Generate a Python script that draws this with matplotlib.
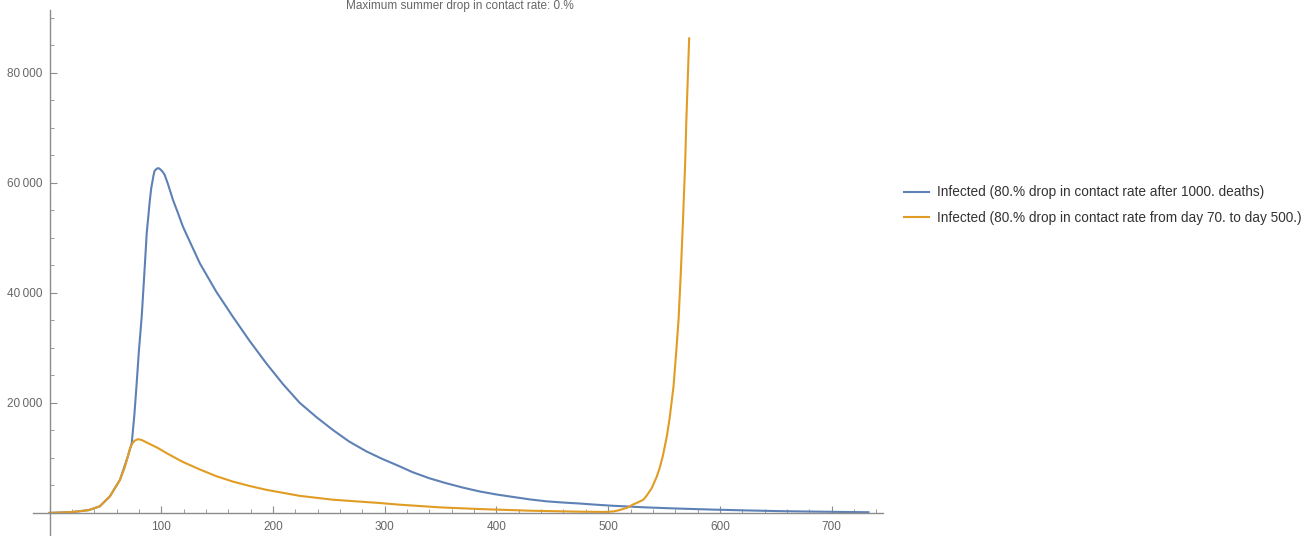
import numpy as np
import matplotlib.pyplot as plt
from matplotlib.ticker import MultipleLocator, FuncFormatter

# values
days_a = [0, 20, 35, 45, 54, 63, 70, 73.6, 76, 78, 80, 82.5, 85, 87, 89.8, 91, 93, 94, 96, 97.5,
          99, 101, 103, 106, 110.5, 115, 119.5, 127, 134.5, 149, 164, 179, 194, 209, 224, 239,
          253.5, 268, 283.5, 298, 313, 325, 340, 355, 370, 385, 400, 415, 430, 445, 460, 475,
          490, 504, 534, 564, 594, 624, 654, 690, 733]
inf_a = [0, 150, 500, 1200, 3000, 6000, 10200, 12700, 18000, 23600, 29500, 35700, 44000, 50900,
         56900, 59000, 61300, 62200, 62600, 62700, 62500, 62100, 61500, 59800, 56900, 54500,
         52000, 48700, 45400, 40300, 35700, 31300, 27200, 23400, 20000, 17400, 15100, 13000,
         11200, 9800, 8500, 7400, 6300, 5400, 4600, 3900, 3350, 2900, 2450, 2100, 1880, 1700,
         1480, 1300, 1000, 780, 600, 450, 320, 220, 120]

days_b = [0, 20, 35, 45, 54, 63, 67, 70, 72, 74, 76, 79, 82, 84, 90, 97, 104.5, 119, 134.5, 149,
          164, 179, 194, 224, 253.5, 295.5, 313, 350, 385, 430, 475, 495, 500, 505, 510, 513,
          516.5, 519, 522, 527, 531.5, 534, 539, 543.5, 546, 549, 552.5, 555, 558.5, 561, 563,
          565, 567, 569, 570, 572.5]
inf_b = [0, 150, 500, 1200, 3000, 6000, 8100, 10200, 11700, 12600, 13100, 13400, 13300, 13100,
         12500, 11800, 10900, 9300, 7900, 6700, 5700, 4900, 4200, 3100, 2400, 1800, 1500, 1000,
         700, 400, 220, 180, 190, 280, 500, 700, 900, 1150, 1500, 1950, 2400, 3000, 4500, 6600,
         8100, 10400, 13900, 17200, 23000, 29500, 35100, 43500, 53300, 64000, 71500, 86300]

label_a = "Infected (80.% drop in contact rate after 1000. deaths)"
label_b = "Infected (80.% drop in contact rate from day 70. to day 500.)"
title = "Maximum summer drop in contact rate: 0.%"

plt.rcParams['font.family'] = ['Liberation Sans', 'DejaVu Sans']

W, H = 1314, 536
fig = plt.figure(figsize=(W / 100, H / 100), dpi=100)
# axes box in pixels: x 33..883, y 10..536
ax = fig.add_axes([33 / W, 0, (883 - 33) / W, (536 - 10) / H])
ax.set_xlim(-14.8, 746)
ax.set_ylim(-4200, 91450)

blue = '#5E81B5'
orange = '#E19C24'
la, = ax.plot(days_a, inf_a, color=blue, lw=1.5)
lb, = ax.plot(days_b, inf_b, color=orange, lw=1.5)

for s in ['top', 'right']:
    ax.spines[s].set_visible(False)
ax.spines['left'].set_position(('data', 0))
ax.spines['bottom'].set_position(('data', 0))
for s in ['left', 'bottom']:
    ax.spines[s].set_color('#8c8c8c')
    ax.spines[s].set_linewidth(1.0)

ax.xaxis.set_major_locator(MultipleLocator(100))
ax.xaxis.set_minor_locator(MultipleLocator(20))
ax.yaxis.set_major_locator(MultipleLocator(20000))
ax.yaxis.set_minor_locator(MultipleLocator(5000))
ax.xaxis.set_major_formatter(FuncFormatter(lambda v, p: '' if v <= 0 else f'{int(v)}'))
ax.yaxis.set_major_formatter(FuncFormatter(
    lambda v, p: '' if v <= 0 else f'{int(v) // 1000}\u2009{int(v) % 1000:03d}'))
ax.tick_params(which='both', direction='in', colors='#8c8c8c', labelcolor='#666666',
               labelsize=8.5)
ax.tick_params(which='major', length=5, width=0.8)
ax.tick_params(which='minor', length=3, width=0.6)
ax.tick_params(axis='x', pad=6)
ax.tick_params(axis='y', pad=5)

fig.text(460 / W, 1 - 6 / H, title, ha='center', va='center', fontsize=8.5, color='#666666')

fig.legend([la, lb], [label_a, label_b], loc='upper left',
           bbox_to_anchor=(899 / W, 1 - 180 / H), frameon=False, fontsize=9.8,
           handlelength=1.8, handletextpad=0.6, labelspacing=0.85, labelcolor='#333333',
           borderaxespad=0)

fig.savefig('out.png', dpi=100)
